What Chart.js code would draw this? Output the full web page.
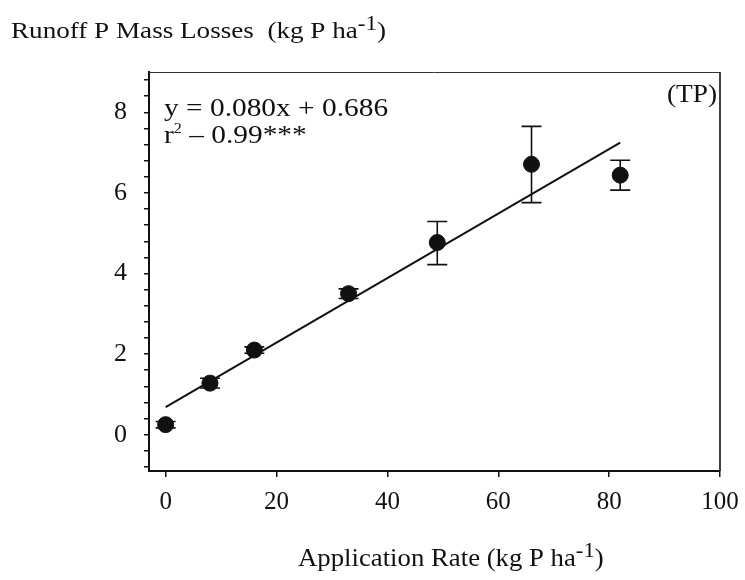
<!DOCTYPE html>
<html>
<head>
<meta charset="utf-8">
<script src="https://cdn.jsdelivr.net/npm/chart.js@4/dist/chart.umd.min.js"></script>
<style>
  html, body { margin: 0; padding: 0; background: #fff; }
  #wrap { width: 745px; height: 580px; position: relative; }
</style>
</head>
<body>
<div id="wrap"><canvas id="tpChart"></canvas></div>
<script>
// application rate (kg P/ha) and runoff TP losses (kg P/ha)
const rate = [0, 8, 16, 33, 49, 66, 82];
const loss = [0.25, 1.28, 2.1, 3.5, 4.77, 6.71, 6.44];
const errLow = [0.17, 1.16, 2.02, 3.38, 4.22, 5.76, 6.07];
const errHigh = [0.33, 1.4, 2.18, 3.62, 5.29, 7.65, 6.81];

// regression reported on the plot
const fitSlope = 0.080;
const fitIntercept = 0.686;
const fitRange = [0, 82];

const xTicks = [0, 20, 40, 60, 80, 100];
const yLabels = [0, 2, 4, 6, 8];
const yMinorStep = 0.4;

const ink = '#111';
const serif = "'Liberation Serif', 'Times New Roman', serif";
Chart.defaults.font.family = serif;
Chart.defaults.color = ink;

// text with a raised part (ha^-1, r^2), slightly widened like the old typeset
function drawSup(ctx, parts, x, y, size, stretch) {
    ctx.save();
    ctx.translate(x, y);
    ctx.scale(stretch || 1, 1);
    let cx = 0;
    parts.forEach(p => {
        const fs = p.sup ? size * p.sup : size;
        ctx.font = fs + 'px ' + serif;
        ctx.fillText(p.t, cx, -(p.rise || 0));
        cx += ctx.measureText(p.t).width;
    });
    ctx.restore();
}

const decorations = {
    id: 'decorations',
    beforeDatasetsDraw(chart) {
        const ctx = chart.ctx;
        const xs = chart.scales.x, ys = chart.scales.y;
        ctx.save();
        ctx.strokeStyle = ink;
        ctx.lineWidth = 1.6;
        rate.forEach((r, i) => {
            const px = xs.getPixelForValue(r);
            const top = ys.getPixelForValue(errHigh[i]);
            const bot = ys.getPixelForValue(errLow[i]);
            ctx.beginPath();
            ctx.moveTo(px, top); ctx.lineTo(px, bot);
            ctx.moveTo(px - 10, top); ctx.lineTo(px + 10, top);
            ctx.moveTo(px - 10, bot); ctx.lineTo(px + 10, bot);
            ctx.stroke();
        });
        ctx.restore();
    },
    afterDraw(chart) {
        const ctx = chart.ctx;
        const a = chart.chartArea;
        ctx.save();
        ctx.strokeStyle = '#333';
        ctx.lineWidth = 1;
        ctx.beginPath();
        ctx.moveTo(a.left, a.top + 0.5); ctx.lineTo(a.right, a.top + 0.5);
        ctx.stroke();
        ctx.strokeStyle = ink;
        ctx.lineWidth = 1.6;
        ctx.beginPath();
        ctx.moveTo(a.right, a.top); ctx.lineTo(a.right, a.bottom);
        ctx.stroke();

        ctx.fillStyle = ink;
        ctx.textBaseline = 'alphabetic';
        ctx.textAlign = 'left';
        drawSup(ctx, [
            { t: 'Runoff P Mass Losses  (kg P ha' },
            { t: '-1', sup: 0.85, rise: 8 },
            { t: ')' }
        ], 11, 38, 24, 1.13);
        drawSup(ctx, [
            { t: 'Application Rate (kg P ha' },
            { t: '-1', sup: 0.85, rise: 9 },
            { t: ')' }
        ], 298, 566, 25, 1.07);
        drawSup(ctx, [{ t: 'y = 0.080x + 0.686' }], 164, 116, 26, 1.13);
        drawSup(ctx, [
            { t: 'r' },
            { t: '2', sup: 0.55, rise: 10 },
            { t: ' \u2013 0.99***' }
        ], 164, 143, 26, 1.13);
        drawSup(ctx, [{ t: '(TP)' }], 667, 102, 26, 1.05);
        ctx.restore();
    }
};

const ctx = document.getElementById('tpChart').getContext('2d');
new Chart(ctx, {
    type: 'scatter',
    data: {
        datasets: [{
            label: 'TP',
            data: rate.map((r, i) => ({ x: r, y: loss[i] })),
            backgroundColor: ink,
            borderColor: ink,
            pointRadius: 8,
            order: 0
        }, {
            type: 'line',
            label: 'fit',
            data: fitRange.map(x => ({ x: x, y: fitIntercept + fitSlope * x })),
            borderColor: ink,
            borderWidth: 2,
            pointRadius: 0,
            fill: false,
            order: 1
        }]
    },
    options: {
        responsive: true,
        maintainAspectRatio: false,
        animation: false,
        layout: { padding: { top: 72, right: 25, left: 0, bottom: 0 } },
        plugins: {
            legend: { display: false },
            tooltip: { enabled: false }
        },
        scales: {
            x: {
                type: 'linear',
                min: -3,
                max: 100,
                afterBuildTicks: scale => { scale.ticks = xTicks.map(v => ({ value: v })); },
                afterFit: scale => {
                    scale.height = 109;
                    scale.paddingLeft = 0;
                    scale.paddingRight = 0;
                },
                ticks: {
                    autoSkip: false,
                    maxRotation: 0,
                    padding: 10,
                    color: ink,
                    font: { size: 25 }
                },
                grid: { drawOnChartArea: false, tickLength: 6, color: ink, lineWidth: 1.5 },
                border: { color: ink, width: 2 }
            },
            y: {
                min: -0.9,
                max: 9,
                afterBuildTicks: scale => {
                    const t = [];
                    for (let v = -0.8; v <= 8.81; v += yMinorStep) {
                        t.push({ value: Math.round(v * 10) / 10 });
                    }
                    scale.ticks = t;
                },
                afterFit: scale => {
                    scale.width = 149;
                    scale.paddingTop = 0;
                    scale.paddingBottom = 0;
                },
                ticks: {
                    autoSkip: false,
                    padding: 17,
                    color: ink,
                    font: { size: 26 },
                    callback: v => yLabels.includes(v) ? String(v) : ''
                },
                grid: { drawOnChartArea: false, tickLength: 5, color: ink, lineWidth: 1.5 },
                border: { color: ink, width: 2 }
            }
        }
    },
    plugins: [decorations]
});
</script>
</body>
</html>
